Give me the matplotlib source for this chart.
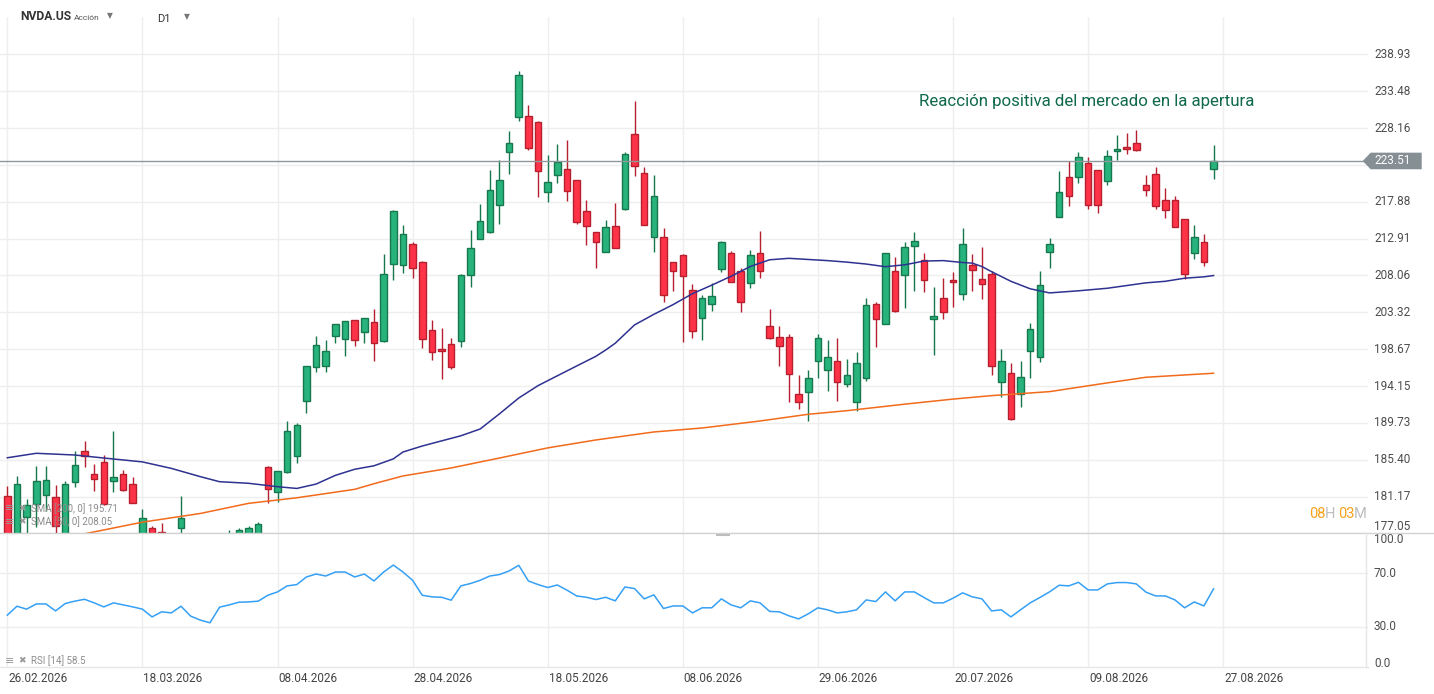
import numpy as np
import matplotlib
matplotlib.use('Agg')
import matplotlib.pyplot as plt
from matplotlib import transforms as mtrans
from matplotlib.patches import Polygon
from matplotlib.lines import Line2D

# ---------------- data ----------------
opens = [181.2, 176.5, 178.9, 180.3, 181.4, 181.1, 176.0, 182.87, 186.42, 183.7,
         185.1, 182.9, 183.7, 182.6, 176.0, 177.7, 177.2, 176.3, 177.6, 175.5,
         174.6, 173.6, 174.0, 175.5, 175.8, 176.2, 176.5, 184.56, 181.66, 183.95,
         185.86, 192.39, 196.45, 196.65, 200.37, 199.92, 202.31, 200.88, 202.06, 199.66,
         209.52, 209.39, 212.16, 209.79, 201.05, 198.69, 199.29, 199.66, 208.07, 212.82,
         213.76, 217.4, 224.73, 229.71, 229.89, 228.98, 219.26, 221.52, 222.35, 220.83,
         216.63, 213.76, 211.11, 214.57, 216.86, 227.27, 221.8, 213.17, 213.08, 209.79,
         210.71, 206.15, 202.56, 204.35, 208.86, 210.97, 208.6, 207.12, 210.97, 201.59,
         200.17, 200.17, 193.15, 193.47, 197.18, 196.07, 197.18, 194.35, 192.2, 195.07,
         204.35, 201.81, 208.6, 208.07, 211.89, 210.05, 202.44, 205.12, 207.43, 205.64,
         209.39, 207.56, 208.2, 194.6, 195.79, 193.23, 198.41, 197.67, 211.11, 215.86,
         221.21, 221.21, 223.18, 222.21, 220.7, 224.87, 225.42, 226.0, 220.2, 221.7,
         218.07, 218.07, 215.51, 210.97, 212.5, 222.35]
highs = [182.4, 183.5, 180.9, 184.7, 184.7, 182.5, 182.9, 186.42, 187.6, 184.9,
         186.0, 188.8, 184.2, 183.4, 179.8, 177.9, 178.2, 176.8, 181.2, 176.2,
         175.4, 174.5, 176.0, 177.4, 177.6, 177.9, 178.3, 184.68, 184.1, 189.94,
         189.74, 196.6, 200.33, 199.83, 201.81, 202.2, 202.35, 202.6, 203.74, 210.88,
         216.8, 214.74, 212.42, 209.96, 202.35, 201.3, 200.04, 208.24, 214.07, 217.61,
         222.26, 223.65, 227.74, 236.46, 231.48, 229.17, 224.36, 225.9, 226.47, 220.9,
         218.1, 213.8, 215.42, 217.75, 224.8, 232.06, 222.67, 221.57, 214.34, 209.8,
         210.88, 206.92, 205.54, 207.05, 212.6, 211.31, 209.07, 211.4, 213.93, 203.74,
         201.59, 200.55, 195.47, 196.07, 200.58, 199.83, 200.08, 197.43, 198.29, 205.12,
         204.64, 211.0, 210.45, 212.42, 213.76, 210.97, 206.52, 207.69, 208.47, 214.3,
         210.84, 211.76, 208.6, 198.66, 196.94, 197.22, 201.97, 208.64, 212.99, 222.1,
         223.5, 224.83, 224.03, 222.3, 225.05, 227.17, 227.45, 227.9, 221.57, 222.67,
         219.74, 218.63, 215.6, 214.7, 213.49, 225.78]
lows = [172.0, 175.0, 176.0, 177.8, 179.5, 176.0, 175.0, 182.3, 184.6, 181.8,
        180.2, 181.7, 181.8, 180.4, 175.0, 175.5, 175.0, 174.2, 176.8, 173.5,
        172.8, 172.0, 173.5, 174.0, 174.5, 175.0, 175.5, 180.41, 180.59, 183.9,
        185.06, 190.95, 195.9, 195.9, 199.49, 197.83, 199.1, 199.49, 197.26, 199.6,
        207.51, 208.42, 207.69, 198.86, 197.38, 195.0, 196.2, 198.98, 206.61, 212.8,
        213.7, 214.92, 221.75, 229.2, 225.1, 218.57, 217.88, 220.5, 218.0, 214.92,
        212.1, 209.0, 211.1, 211.6, 216.7, 221.47, 214.7, 211.18, 204.68, 206.06,
        199.61, 200.04, 199.79, 203.52, 208.47, 207.2, 203.4, 206.48, 207.76, 200.0,
        196.66, 192.27, 191.39, 189.9, 195.19, 193.59, 192.39, 194.07, 191.19, 194.79,
        198.98, 201.8, 203.4, 203.9, 206.1, 205.89, 197.99, 202.44, 204.04, 204.86,
        206.01, 204.99, 195.55, 192.79, 190.1, 191.59, 195.07, 197.06, 209.07, 215.8,
        217.34, 220.5, 216.86, 216.4, 220.2, 223.6, 224.49, 224.9, 218.7, 216.86,
        215.72, 214.5, 207.63, 210.18, 209.34, 221.03]
closes = [175.8, 182.6, 180.2, 183.0, 183.1, 177.9, 182.6, 184.79, 185.87, 183.2,
          180.3, 183.4, 181.9, 180.5, 178.8, 176.0, 176.0, 175.2, 178.8, 174.5,
          173.5, 174.0, 175.6, 176.3, 177.4, 177.7, 178.1, 182.0, 184.07, 188.77,
          189.44, 196.6, 199.16, 198.41, 201.81, 202.19, 199.87, 202.56, 199.49, 208.2,
          216.59, 213.53, 209.0, 199.91, 198.29, 198.45, 196.45, 208.11, 211.67, 215.28,
          219.45, 220.83, 226.0, 235.82, 225.3, 222.08, 220.56, 223.37, 219.4, 215.2,
          214.57, 212.5, 214.43, 211.63, 224.45, 222.77, 214.7, 218.63, 205.5, 208.6,
          207.94, 200.93, 205.12, 205.38, 212.46, 207.25, 204.6, 210.71, 208.6, 200.04,
          199.04, 195.59, 192.2, 195.19, 200.04, 197.67, 194.6, 195.55, 196.94, 204.22,
          202.51, 210.97, 203.45, 211.76, 212.55, 207.43, 202.81, 203.32, 207.17, 212.16,
          208.73, 206.92, 196.56, 197.18, 190.19, 195.31, 201.18, 206.79, 212.16, 219.18,
          218.63, 224.02, 217.4, 217.4, 224.16, 225.23, 225.14, 225.0, 219.5, 217.3,
          216.72, 214.51, 208.28, 213.08, 209.79, 223.51]

sma50_idx = [0, 3, 7, 10, 14, 17, 20, 22, 25, 28, 30, 32, 34, 36, 38, 40, 41, 43, 45, 47,
             49, 51, 53, 55, 57, 59, 61, 62, 63, 65, 67, 69, 71, 73, 75, 77, 79, 81, 83, 85,
             87, 89, 91, 93, 95, 97, 99, 100, 101, 102, 104, 106, 108, 111, 114, 116, 118,
             120, 122, 124, 125]
sma50_val = [185.63, 186.15, 185.95, 185.6, 185.15, 184.4, 183.45, 182.87, 182.69, 182.3,
             182.1, 182.6, 183.6, 184.3, 184.7, 185.5, 186.3, 187.0, 187.6, 188.2,
             189.0, 190.8, 192.7, 194.2, 195.4, 196.6, 197.8, 198.57, 199.42, 201.72,
             203.06, 204.3, 205.7, 206.8, 207.95, 209.23, 210.11, 210.3, 210.15, 210.0,
             209.8, 209.55, 209.2, 209.45, 209.94, 210.0, 209.75, 209.67, 209.22, 208.55,
             207.3, 206.33, 205.8, 206.07, 206.4, 206.75, 207.1, 207.3, 207.7, 207.88,
             208.05]
sma200_idx = [0, 8, 14, 20, 25, 30, 36, 38, 41, 46, 51, 56, 61, 67, 72, 78, 83, 87, 93,
              98, 102, 108, 113, 118, 125]
sma200_val = [175.6, 177.0, 178.3, 179.27, 180.41, 181.04, 182.0, 182.64, 183.53, 184.45,
              185.6, 186.78, 187.71, 188.65, 189.12, 189.95, 190.75, 191.18, 191.96,
              192.57, 192.99, 193.47, 194.36, 195.22, 195.71]

rsi_vals = [38.8, 45.5, 43.3, 47.2, 47.2, 42.0, 47.5, 49.3, 50.7, 48.0,
            45.0, 48.0, 46.5, 45.0, 43.3, 37.5, 41.3, 40.5, 45.5, 38.1,
            35.1, 33.1, 44.8, 46.5, 48.5, 48.7, 49.3, 53.7, 56.2, 60.7,
            61.7, 67.4, 69.6, 68.1, 71.1, 71.1, 67.4, 69.6, 64.4, 71.1,
            76.3, 71.1, 64.9, 53.7, 52.5, 52.2, 50.0, 60.7, 62.5, 64.9,
            68.1, 69.2, 71.9, 76.1, 64.4, 61.7, 59.5, 61.4, 57.5, 53.2,
            52.2, 50.5, 52.2, 49.5, 59.9, 58.7, 51.0, 54.0, 43.8, 45.7,
            45.7, 40.5, 44.3, 44.3, 51.0, 46.5, 44.3, 49.5, 48.0, 41.6,
            41.3, 38.3, 36.0, 39.8, 44.3, 42.8, 40.5, 41.3, 42.8, 50.2,
            49.0, 56.2, 49.5, 56.2, 56.2, 52.0, 48.0, 48.0, 51.5, 55.5,
            52.5, 51.0, 42.0, 42.8, 37.5, 42.8, 48.0, 52.0, 56.2, 61.2,
            60.7, 63.4, 57.7, 57.7, 62.2, 63.2, 63.2, 62.2, 56.0, 53.2,
            53.2, 50.2, 44.3, 48.7, 45.7, 58.5]

# price grid levels; the 222.96 level is hidden behind the last-price tag
price_ticks = [238.93, 233.48, 228.16, 222.96, 217.88, 212.91, 208.06, 203.32,
               198.67, 194.15, 189.73, 185.40, 181.17, 177.05]
hidden_tick = 222.96
rsi_ticks = [100.0, 70.0, 30.0, 0.0]
date_idx = [0, 14, 28, 42, 56, 70, 84, 98, 112, 126]
date_labels = ['26.02.2026', '18.03.2026', '08.04.2026', '28.04.2026', '18.05.2026',
               '08.06.2026', '29.06.2026', '20.07.2026', '09.08.2026', '27.08.2026']
last_price = 223.51
annotation = 'Reacción positiva del mercado en la apertura'

# ---------------- figure ----------------
plt.rcParams['font.family'] = ['Roboto', 'DejaVu Sans']
W, H = 1434, 694
fig = plt.figure(figsize=(W / 100, H / 100), dpi=100)
fig.patch.set_facecolor('white')


def fx(px):
    return px / W


def fy(py):
    return 1 - py / H


AX_R = 1368
MAIN_TOP, MAIN_BOT = 17, 533.4
RSI_TOP, RSI_BOT = 533.4, 667
BAR_PX, X0_PX = 9.65, 7.3

ax = fig.add_axes([0, fy(MAIN_BOT), fx(AX_R), (MAIN_BOT - MAIN_TOP) / H])
axr = fig.add_axes([0, fy(RSI_BOT), fx(AX_R), (RSI_BOT - RSI_TOP) / H])

xl = (-X0_PX / BAR_PX, (AX_R - X0_PX) / BAR_PX)
for a in (ax, axr):
    a.set_xlim(*xl)
    for s in a.spines.values():
        s.set_visible(False)
    a.set_xticks([])
    a.set_yticks([])
    a.set_facecolor('white')

ax.set_yscale('log')
ax.set_ylim(177.05, 238.93 * np.exp((54.3 - MAIN_TOP) / 1597.0))
ax.minorticks_off()
ax.set_yticks([])
axr.set_ylim(0, 100)

grid_c = '#eeeeee'
for p in price_ticks:
    ax.axhline(p, color=grid_c, lw=1, zorder=0)
for v in (70, 30):
    axr.axhline(v, color=grid_c, lw=1, zorder=0)
for i in date_idx:
    ax.axvline(i, color=grid_c, lw=1, zorder=0)
    axr.axvline(i, color=grid_c, lw=1, zorder=0)

# candles
o = np.array(opens); h = np.array(highs); l = np.array(lows); c = np.array(closes)
idx = np.arange(len(c))
up = c >= o
fill = np.where(up, '#27b37b', '#ff3347')
edge = np.where(up, '#17784e', '#b51f2e')
ax.vlines(idx, l, h, colors=edge, lw=1.0, zorder=3)
ax.bar(idx, np.abs(c - o), bottom=np.minimum(o, c), width=0.68, color=fill,
       edgecolor=edge, linewidth=1.0, zorder=4)

# indicators
ax.plot(sma200_idx, sma200_val, color='#f26a1b', lw=1.1, zorder=5)
ax.plot(sma50_idx, sma50_val, color='#2e3290', lw=1.1, zorder=5)
ax.axhline(last_price, color='#8d979c', lw=1, zorder=5)

axr.plot(idx, rsi_vals, color='#35a0f5', lw=1.1, zorder=3)

# price labels
ytr = ax.get_yaxis_transform()
lx = 1374 / AX_R
for p in price_ticks:
    if p == hidden_tick:
        continue
    va = 'bottom' if p == price_ticks[-1] else 'center'
    ax.text(lx, p, f'{p:.2f}', transform=ytr, ha='left', va=va, fontsize=8.5,
            color='#4d4d4d', clip_on=False)
ytr2 = axr.get_yaxis_transform()
for v in rsi_ticks:
    va = 'top' if v == 100 else ('baseline' if v == 0 else 'center')
    axr.text(lx, v, f'{v:.1f}', transform=ytr2, ha='left', va=va, fontsize=8.5,
             color='#4d4d4d', clip_on=False)

# date labels
xtr = axr.get_xaxis_transform()
for i, lab in zip(date_idx, date_labels):
    axr.text(i + 0.1, -0.085, lab, transform=xtr, ha='left', va='center',
             fontsize=8.5, color='#444444', clip_on=False)

# last price marker
yc = ax.transData.transform((0, last_price))[1]
verts = [(1362.7, yc), (1370.7, yc + 8.3), (1421.7, yc + 8.3), (1421.7, yc - 8.3), (1370.7, yc - 8.3)]
fig.add_artist(Polygon(verts, closed=True, transform=mtrans.IdentityTransform(),
                       fc='#858f94', ec='none', zorder=10))
fig.text(1374 / W, yc / H, f'{last_price:.2f}', color='white', fontsize=8.5,
         ha='left', va='center', zorder=11)

# panel separators
fig.add_artist(Line2D([0, 1], [fy(MAIN_BOT)] * 2, transform=fig.transFigure,
                      color='#d2d2d2', lw=1))
fig.add_artist(Line2D([0, fx(AX_R)], [fy(RSI_BOT)] * 2, transform=fig.transFigure,
                      color='#e6e6e6', lw=1))
fig.add_artist(Line2D([fx(1366)] * 2, [fy(RSI_TOP), fy(RSI_BOT)], transform=fig.transFigure,
                      color='#e6e6e6', lw=1))
fig.add_artist(Line2D([fx(717), fx(729)], [fy(535)] * 2, transform=fig.transFigure,
                      color='#bdbdbd', lw=1.5))

# header
fig.text(fx(20), fy(17), 'NVDA.US', fontsize=8.7, fontweight='bold', color='#333333',
         ha='left', va='center')
fig.text(fx(74), fy(18), 'Acción', fontsize=6, color='#555555', ha='left', va='center')
fig.text(fx(107), fy(16), '▼', fontsize=5.5, color='#777777', ha='left', va='center',
         family=['DejaVu Sans'])
fig.text(fx(157), fy(19), 'D1', fontsize=8, color='#333333', ha='left', va='center')
fig.text(fx(184), fy(17), '▼', fontsize=5.5, color='#777777', ha='left', va='center',
         family=['DejaVu Sans'])

# annotation
fig.text(fx(919), fy(101.5), annotation, fontsize=12.2, color='#10694b', ha='left', va='center')

# countdown
for s, x, col in [('08', 1309, '#f7a21b'), ('H', 1325, '#bdbdbd'),
                  ('03', 1338, '#f7a21b'), ('M', 1353.5, '#bdbdbd')]:
    fig.text(fx(x), fy(514), s, fontsize=10.5, color=col, ha='left', va='center')

# indicator legends
leg_c = '#8c8c8c'
for ytxt, txt in [(508.3, f'SMA [200, 0] {sma200_val[-1]:.2f}'),
                  (521.7, f'SMA [50, 0] {sma50_val[-1]:.2f}'),
                  (661, f'RSI [14] {rsi_vals[-1]:.1f}')]:
    fig.text(fx(5), fy(ytxt), '≡', fontsize=8, color='#9a9a9a', ha='left', va='center',
             family=['DejaVu Sans'], zorder=12)
    fig.text(fx(18), fy(ytxt), '✖', fontsize=6.5, color='#9a9a9a', ha='left', va='center',
             family=['DejaVu Sans'], zorder=12)
    fig.text(fx(31.5), fy(ytxt), txt, fontsize=7, color=leg_c, ha='left', va='center',
             zorder=12)

fig.savefig('out.png', dpi=100, facecolor='white')
